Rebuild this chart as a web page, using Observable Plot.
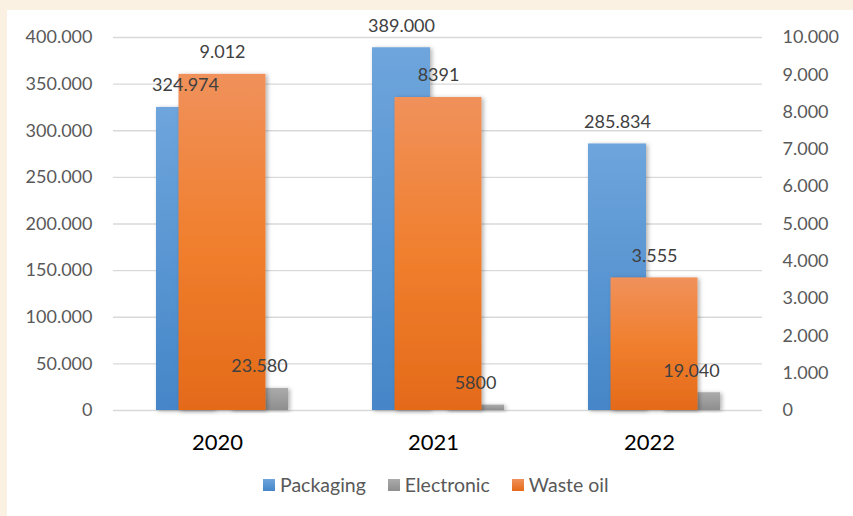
<!DOCTYPE html>
<html><head><meta charset="utf-8">
<script src="https://cdn.jsdelivr.net/npm/d3@7"></script>
<script src="https://cdn.jsdelivr.net/npm/@observablehq/plot@0.6"></script>
<style>
html,body{margin:0;padding:0;}
body{width:853px;height:516px;background:#FAF1E2;position:relative;overflow:hidden;font-family:Lato,sans-serif;}
#panel{position:absolute;left:7px;top:10px;width:846px;height:506px;background:#fff;}
#chart{position:absolute;left:0;top:0;}
#legend{position:absolute;left:256px;top:465px;display:flex;align-items:center;font-size:19.5px;line-height:20px;color:#595959;}
#legend .sw{width:12px;height:12px;margin-right:5px;}
#legend .it{display:flex;align-items:center;margin-right:22px;}
</style></head><body>
<div id="panel"><div id="chart"></div><div id="legend"></div></div>
<script>
const years = ["2020", "2021", "2022"];
const packaging = [324974, 389000, 285834];
const electronic = [23580, 5800, 19040];
const wasteOil = [9012, 8391, 3555];
const packagingLabels = ["324.974", "389.000", "285.834"];
const electronicLabels = ["23.580", "5800", "19.040"];
const wasteOilLabels = ["9.012", "8391", "3.555"];
const leftTicks = [0, 50000, 100000, 150000, 200000, 250000, 300000, 350000, 400000];
const rightTicks = [0, 1000, 2000, 3000, 4000, 5000, 6000, 7000, 8000, 9000, 10000];
const seriesNames = ["Packaging", "Electronic", "Waste oil"];
const seriesSwatch = ["linear-gradient(#6EA5DC,#4586C8)", "linear-gradient(#ABABAB,#8E8E8E)", "linear-gradient(#F0915B,#E46A19)"];

const ratio = leftTicks[leftTicks.length - 1] / rightTicks[rightTicks.length - 1];
const fmt = d3.formatLocale({decimal: ",", thousands: ".", grouping: [3], currency: ["", ""]}).format(",");

const rows = years.map((y, i) => ({
  year: y,
  packaging: packaging[i], packLabel: packagingLabels[i],
  electronic: electronic[i], elecLabel: electronicLabels[i],
  oil: wasteOil[i] * ratio, oilLabel: wasteOilLabels[i]
}));

const lbl = {fontSize: 18, fill: "#404040", dy: -22};

const chart = Plot.plot({
  width: 846, height: 455,
  marginLeft: 106, marginRight: 91, marginTop: 27, marginBottom: 55,
  style: {fontFamily: "Lato, sans-serif", background: "transparent", overflow: "visible"},
  x: {domain: years, paddingInner: 0.39, paddingOuter: 0.195},
  y: {domain: [0, 400000]},
  marks: [
    Plot.gridY(leftTicks, {stroke: "#D9D9D9", strokeOpacity: 1, strokeWidth: 1.3}),
    Plot.axisY({ticks: leftTicks, anchor: "left", tickSize: 0, tickPadding: 21, tickFormat: fmt, fontSize: 18, color: "#595959", label: null}),
    Plot.axisY({ticks: rightTicks.map(d => d * ratio), anchor: "right", tickSize: 0, tickPadding: 20, tickFormat: d => fmt(d / ratio), fontSize: 18, color: "#595959", label: null}),
    Plot.axisX({anchor: "bottom", tickSize: 0, tickPadding: 24, fontSize: 22, color: "#000", label: null, dx: -5}),
    Plot.barY(rows, {x: "year", y: "packaging", insetRight: 74, fill: "url(#gPack)"}),
    Plot.barY(rows, {x: "year", y: "electronic", insetLeft: 74, fill: "url(#gElec)"}),
    Plot.barY(rows, {x: "year", y: "oil", insetLeft: 22.5, insetRight: 22.5, fill: "url(#gOil)"}),
    Plot.text(rows, {x: "year", y: "packaging", text: "packLabel", dx: -37, ...lbl}),
    Plot.text(rows, {x: "year", y: "electronic", text: "elecLabel", dx: 37, ...lbl}),
    Plot.text(rows, {x: "year", y: "oil", text: "oilLabel", dx: 0, ...lbl})
  ]
});

const svg = d3.select(chart);
const defs = svg.insert("defs", ":first-child");
function grad(id, stops) {
  const g = defs.append("linearGradient").attr("id", id).attr("x1", 0).attr("y1", 0).attr("x2", 0).attr("y2", 1);
  stops.forEach(([o, c]) => g.append("stop").attr("offset", o).attr("stop-color", c));
}
grad("gPack", [[0, "#6EA5DC"], [1, "#4586C8"]]);
grad("gElec", [[0, "#ABABAB"], [1, "#8E8E8E"]]);
grad("gOil", [[0, "#F0915B"], [0.5, "#F07F2E"], [1, "#E46A19"]]);
const f = defs.append("filter").attr("id", "shadow").attr("x", "-20%").attr("y", "-10%").attr("width", "140%").attr("height", "120%");
f.append("feDropShadow").attr("dx", 2).attr("dy", 1).attr("stdDeviation", 2).attr("flood-color", "#000").attr("flood-opacity", 0.3);
svg.selectAll('g[aria-label="bar"]').attr("filter", "url(#shadow)");

document.getElementById("chart").appendChild(chart);

const legend = d3.select("#legend");
seriesNames.forEach((n, i) => {
  const it = legend.append("div").attr("class", "it");
  it.append("div").attr("class", "sw").style("background", seriesSwatch[i]);
  it.append("span").text(n);
});
</script>
</body></html>
